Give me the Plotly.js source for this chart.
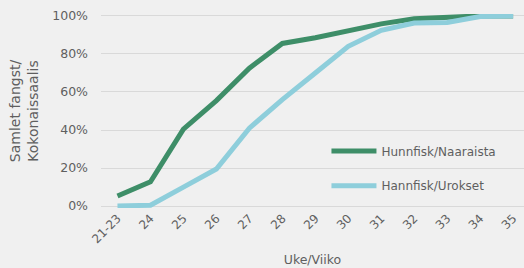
<!DOCTYPE html>
<html>
<head>
<meta charset="utf-8">
<script src="https://cdn.plot.ly/plotly-3.0.1.min.js"></script>
<style>
html,body{margin:0;padding:0;background:#f0f0f0;}
#chart{width:524px;height:268px;}
</style>
</head>
<body>
<div id="chart"></div>
<script>
var weeks = ["21-23","24","25","26","27","28","29","30","31","32","33","34","35"];
var hunnfisk = [0.053, 0.128, 0.405, 0.555, 0.725, 0.855, 0.885, 0.923, 0.958, 0.985, 0.993, 1.0, 1.0];
var hannfisk = [0.0, 0.005, 0.10, 0.195, 0.41, 0.56, 0.70, 0.84, 0.924, 0.963, 0.965, 0.997, 1.0];

var fontFam = "'DejaVu Sans', sans-serif";
var txtCol = "#5f5f5f";

var data = [
  {x: weeks, y: hunnfisk, type: "scatter", mode: "lines", name: "Hunnfisk/Naaraista",
   line: {color: "#3E8E68", width: 5}, legend: "legend"},
  {x: weeks, y: hannfisk, type: "scatter", mode: "lines", name: "Hannfisk/Urokset",
   line: {color: "#8ECEDB", width: 5}, legend: "legend2"}
];

var layout = {
  width: 524, height: 268,
  margin: {l: 101, r: 0, t: 14, b: 60},
  paper_bgcolor: "#f0f0f0", plot_bgcolor: "#f0f0f0",
  font: {family: fontFam, color: txtCol, size: 12},
  xaxis: {
    type: "category", range: [-0.5, 12.33],
    showgrid: false, zeroline: false, showline: false,
    tickangle: -45, ticks: "", tickfont: {size: 12, color: txtCol},
    title: {text: "Uke/Viiko", font: {size: 12.5, color: txtCol}, standoff: 10}
  },
  yaxis: {
    range: [-0.01, 1.01], tickvals: [0,0.2,0.4,0.6,0.8,1.0], tickformat: ".0%",
    showgrid: true, gridcolor: "#d9d9d9", gridwidth: 1, zeroline: false,
    ticks: "", ticklen: 0, ticklabelstandoff: 12, tickfont: {size: 12.5, color: txtCol},
    title: {text: "Samlet fangst/<br>Kokonaissaalis", font: {size: 14, color: txtCol}, standoff: 10}
  },
  showlegend: true,
  legend: {x: 0.533, y: 0.294, xanchor: "left", yanchor: "middle", bgcolor: "rgba(0,0,0,0)",
           font: {size: 12, color: txtCol}, itemwidth: 45},
  legend2: {x: 0.533, y: 0.115, xanchor: "left", yanchor: "middle", bgcolor: "rgba(0,0,0,0)",
           font: {size: 12, color: txtCol}, itemwidth: 45}
};

Plotly.newPlot("chart", data, layout, {displayModeBar: false, staticPlot: true});
</script>
</body>
</html>
